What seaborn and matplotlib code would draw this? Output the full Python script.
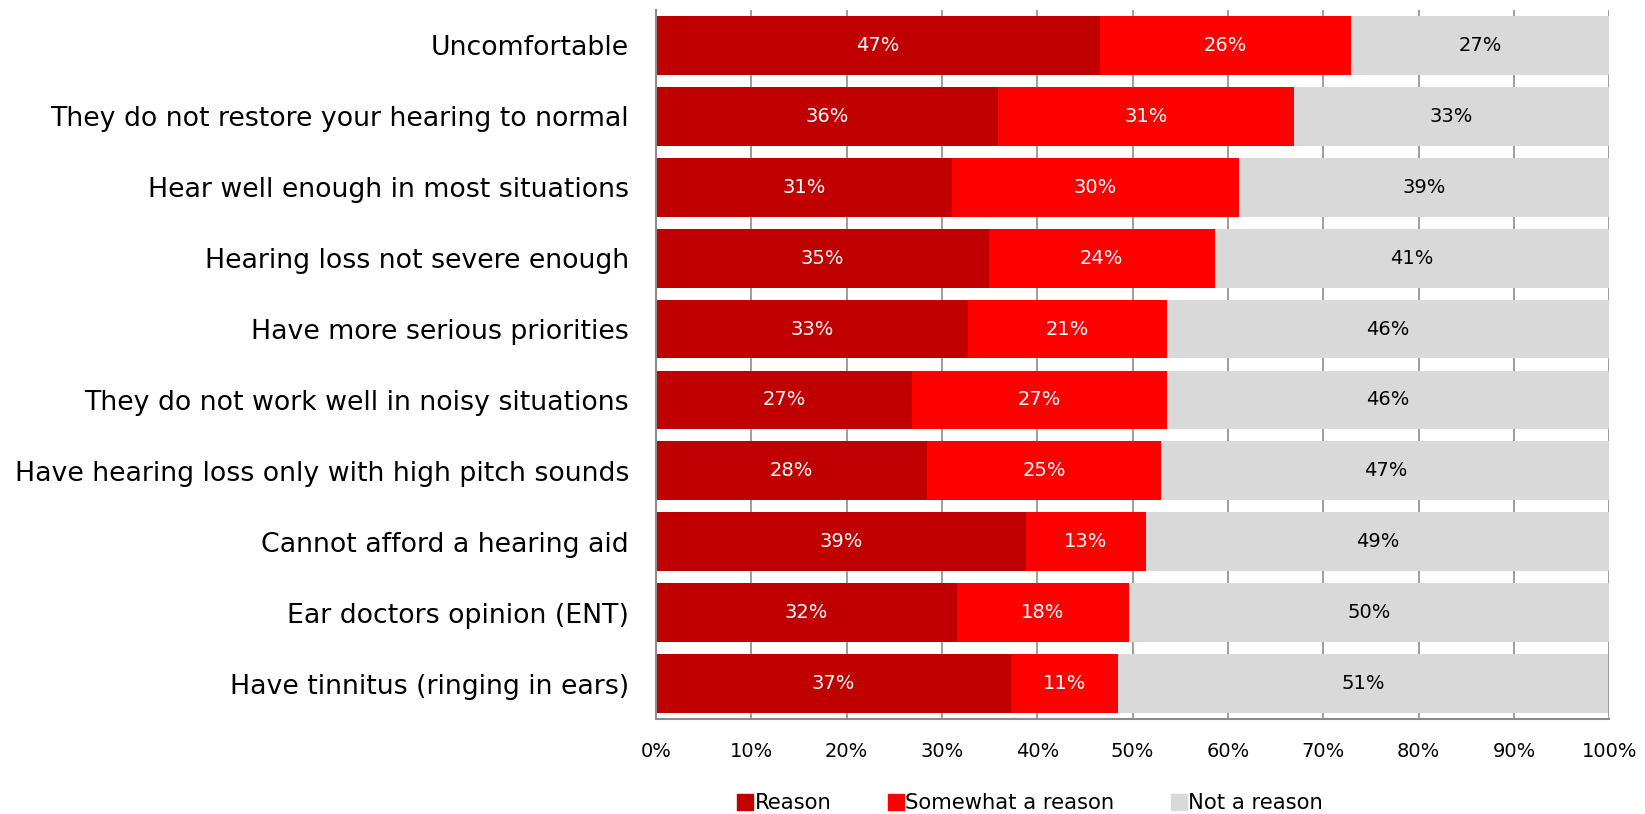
import numpy as np
import pandas as pd
import seaborn as sns
import matplotlib.pyplot as plt
import matplotlib.lines as mlines

# survey data - share of answers per reason (in %)
categories = ["Uncomfortable",
              "They do not restore your hearing to normal",
              "Hear well enough in most situations",
              "Hearing loss not severe enough",
              "Have more serious priorities",
              "They do not work well in noisy situations",
              "Have hearing loss only with high pitch sounds",
              "Cannot afford a hearing aid",
              "Ear doctors opinion (ENT)",
              "Have tinnitus (ringing in ears)"]
reason = [46.6, 35.9, 31.0, 34.9, 32.7, 26.9, 28.4, 38.8, 31.6, 37.2]
somewhat = [26.3, 31.0, 30.2, 23.7, 20.9, 26.7, 24.6, 12.6, 18.0, 11.3]
not_reason = [27.1, 33.1, 38.8, 41.4, 46.4, 46.4, 47.0, 48.6, 50.4, 51.4]
x_ticks = [0, 10, 20, 30, 40, 50, 60, 70, 80, 90, 100]

series_names = ["Reason", "Somewhat a reason", "Not a reason"]
colors = ["#C00000", "#FF0000", "#D9D9D9"]
text_colors = ["white", "white", "black"]
grey = "#8C8C8C"

df = pd.DataFrame({"cat": categories, "Reason": reason,
                   "Somewhat a reason": somewhat, "Not a reason": not_reason})
df["c1"] = df["Reason"]
df["c2"] = df["c1"] + df["Somewhat a reason"]
df["c3"] = df["c2"] + df["Not a reason"]

sns.set_style("white")
plt.rcParams['font.family'] = ['DejaVu Sans']

fig = plt.figure(figsize=(16.45, 8.14), dpi=100)
ax = fig.add_axes([0.3988, 0.1167, 0.5795, 0.871])

# stacked bars: draw the cumulative totals from the longest down
for col, c in zip(["c3", "c2", "c1"], colors[::-1]):
    sns.barplot(data=df, y="cat", x=col, color=c, orient="h", width=0.83,
                saturation=1, ax=ax, linewidth=0, zorder=2)

# segment labels
lefts = np.zeros(len(df))
for name, tc in zip(series_names, text_colors):
    vals = df[name].values
    for i, v in enumerate(vals):
        ax.text(lefts[i] + v / 2, i, "{:.0f}%".format(v), ha="center", va="center",
                color=tc, fontsize=14, zorder=3)
    lefts = lefts + vals

ax.set_xlim(0, 100)
ax.set_ylim(len(df) - 0.5, -0.5)
ax.set_xticks(x_ticks)
ax.set_xticklabels([str(t) + "%" for t in x_ticks], fontsize=14)
ax.set_yticks(np.arange(len(df)))
ax.set_yticklabels(categories, fontsize=19.3, color="black")
ax.tick_params(axis="y", length=0, pad=19.5)
ax.tick_params(axis="x", length=4.5, width=1.2, color=grey, direction="out", pad=12,
               labelcolor="black")

# category separators on the y axis
ax.set_yticks(np.arange(len(df) + 1) - 0.5, minor=True)
ax.tick_params(axis="y", which="minor", length=6.5, width=1.2, color=grey, direction="out")

ax.xaxis.grid(True, color=grey, linewidth=1.2, zorder=0)
ax.set_axisbelow(True)
ax.set_xlabel("")
ax.set_ylabel("")
sns.despine(ax=ax, top=True, right=True)
for s in ["left", "bottom"]:
    ax.spines[s].set_color(grey)
    ax.spines[s].set_linewidth(1.5)

legend = [mlines.Line2D([], [], color=c, marker="s", linestyle="None", markersize=12, label=n)
          for n, c in zip(series_names, colors)]
fig.legend(handles=legend, loc="center", bbox_to_anchor=(0.6257, 0.013), ncol=3,
           frameon=False, fontsize=15.2, handletextpad=0.0, columnspacing=2.6,
           handlelength=0.9, labelcolor="black")

plt.savefig("out.png", dpi=100)
